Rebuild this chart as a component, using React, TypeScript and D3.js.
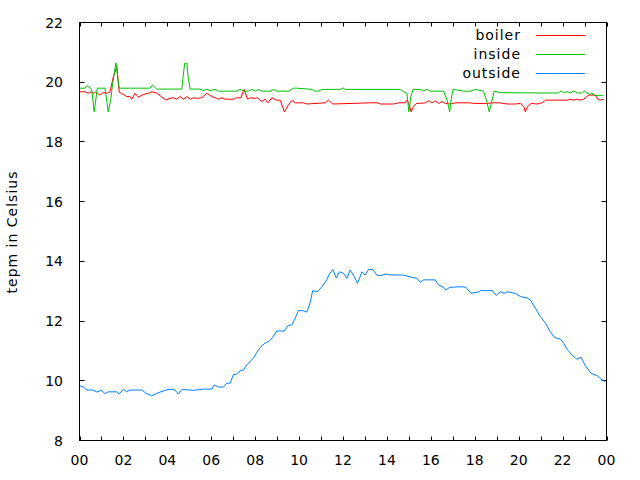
import React from 'react';
import * as d3 from 'd3';

const xTickHours = d3.range(0, 25, 1);
const xLabelHours = d3.range(0, 25, 2);
const yTickValues = d3.range(8, 23, 2);

const seriesNames = ['boiler', 'inside', 'outside'];
const seriesColors = ['#ff0000', '#00c000', '#0080ff'];

const boilerReadings: [number, number][] = [
  [0, 19.68], [0.25, 19.68], [0.4, 19.63], [0.48, 19.68], [0.63, 19.63], [0.75, 19.68], [0.93, 19.57],
  [1.08, 19.66], [1.24, 19.63], [1.39, 19.68], [1.54, 20.18], [1.7, 20.52], [1.81, 19.66], [1.92, 19.63],
  [2.15, 19.52], [2.3, 19.52], [2.38, 19.43], [2.53, 19.63], [2.68, 19.5], [2.91, 19.59], [3.14, 19.63],
  [3.29, 19.68], [3.52, 19.63], [3.67, 19.55], [3.94, 19.4], [4.12, 19.46], [4.28, 19.48], [4.43, 19.43],
  [4.58, 19.52], [4.73, 19.43], [4.89, 19.52], [5.04, 19.43], [5.19, 19.48], [5.34, 19.46], [5.57, 19.48],
  [5.8, 19.63], [6.03, 19.52], [6.18, 19.48], [6.33, 19.43], [6.48, 19.48], [6.63, 19.43], [7.01, 19.43],
  [7.16, 19.48], [7.35, 19.48], [7.5, 19.76], [7.65, 19.43], [7.77, 19.48], [8.0, 19.46], [8.1, 19.48],
  [8.3, 19.35], [8.45, 19.43], [8.58, 19.31], [8.76, 19.48], [8.96, 19.4], [9.14, 19.4], [9.33, 19.01],
  [9.52, 19.24], [9.67, 19.39], [9.82, 19.31], [10.2, 19.31], [10.36, 19.27], [11.19, 19.31], [11.34, 19.4],
  [11.54, 19.27], [13.24, 19.31], [13.55, 19.31], [13.7, 19.27], [14.3, 19.27], [14.53, 19.31], [14.84, 19.31],
  [14.91, 19.4], [15.0, 19.29], [15.1, 19.01], [15.21, 19.19], [15.34, 19.29], [15.52, 19.29], [15.75, 19.31],
  [15.9, 19.38], [16.05, 19.31], [16.2, 19.38], [16.35, 19.29], [16.51, 19.35], [16.66, 19.29], [16.89, 19.27],
  [17.12, 19.31], [17.8, 19.31], [17.95, 19.29], [18.56, 19.29], [18.79, 19.31], [19.17, 19.31], [19.29, 19.29],
  [19.47, 19.27], [19.85, 19.27], [20.08, 19.29], [20.23, 19.19], [20.3, 19.01], [20.41, 19.19], [20.57, 19.29],
  [20.84, 19.27], [21.07, 19.31], [21.22, 19.4], [22.21, 19.4], [22.36, 19.43], [22.51, 19.4], [22.66, 19.43],
  [22.81, 19.4], [22.96, 19.43], [23.12, 19.53], [23.23, 19.57], [23.49, 19.57], [23.6, 19.43], [23.72, 19.4],
  [23.87, 19.43],
];

const insideReadings: [number, number][] = [
  [0, 19.8], [0.25, 19.8], [0.33, 19.88], [0.48, 19.82], [0.56, 19.74], [0.67, 19.01], [0.81, 19.8],
  [1.16, 19.8], [1.31, 19.01], [1.42, 19.4], [1.51, 19.96], [1.66, 20.65], [1.77, 20.0], [1.81, 19.8],
  [3.21, 19.8], [3.32, 19.91], [3.52, 19.77], [4.66, 19.77], [4.72, 20.2], [4.79, 20.63], [4.89, 20.63],
  [4.96, 20.1], [5.04, 19.77], [5.49, 19.77], [5.64, 19.72], [5.8, 19.76], [5.98, 19.72], [6.18, 19.76],
  [6.33, 19.7], [7.16, 19.7], [7.32, 19.76], [7.47, 19.7], [7.69, 19.7], [7.85, 19.76], [8.0, 19.7],
  [8.15, 19.76], [8.3, 19.7], [8.68, 19.7], [8.83, 19.76], [8.99, 19.7], [9.52, 19.7], [9.74, 19.8],
  [9.9, 19.8], [10.58, 19.76], [10.73, 19.7], [10.88, 19.7], [11.04, 19.76], [11.87, 19.76], [12.0, 19.81],
  [12.1, 19.76], [14.61, 19.76], [14.76, 19.68], [14.91, 19.63], [15.0, 19.01], [15.09, 19.52], [15.19, 19.76],
  [15.52, 19.76], [15.67, 19.71], [15.83, 19.76], [15.98, 19.7], [16.58, 19.7], [16.74, 19.4], [16.86, 19.01],
  [16.92, 19.4], [17.01, 19.76], [17.19, 19.74], [17.49, 19.7], [17.8, 19.7], [18.03, 19.76], [18.4, 19.7],
  [18.53, 19.4], [18.66, 19.01], [18.79, 19.4], [18.89, 19.7], [19.17, 19.65], [20.99, 19.64], [21.81, 19.64],
  [21.93, 19.71], [22.05, 19.64], [22.21, 19.69], [22.36, 19.64], [22.51, 19.71], [22.66, 19.64], [22.89, 19.64],
  [23.01, 19.71], [23.12, 19.63], [23.27, 19.6], [23.34, 19.64], [23.42, 19.56], [23.85, 19.56],
];

const outsideReadings: [number, number][] = [
  [0, 9.84], [0.2, 9.78], [0.35, 9.69], [0.6, 9.69], [0.81, 9.62], [0.98, 9.69], [1.16, 9.57], [1.3, 9.63],
  [1.7, 9.63], [1.81, 9.56], [2.0, 9.72], [2.15, 9.63], [2.3, 9.69], [2.84, 9.69], [3.03, 9.58], [3.29, 9.5],
  [3.52, 9.58], [3.67, 9.62], [3.9, 9.68], [4.13, 9.72], [4.35, 9.69], [4.5, 9.55], [4.66, 9.7], [4.89, 9.7],
  [5.19, 9.68], [5.4, 9.7], [5.64, 9.72], [6.03, 9.72], [6.13, 9.86], [6.33, 9.79], [6.55, 9.79], [6.71, 9.92],
  [6.86, 9.92], [7.01, 10.2], [7.16, 10.22], [7.32, 10.34], [7.47, 10.36], [7.62, 10.53], [7.77, 10.64],
  [7.95, 10.79], [8.07, 10.94], [8.25, 11.14], [8.45, 11.26], [8.65, 11.34], [8.8, 11.46], [8.99, 11.67],
  [9.32, 11.67], [9.52, 11.86], [9.67, 11.87], [9.82, 12.09], [9.97, 12.35], [10.17, 12.35], [10.35, 12.3],
  [10.5, 12.6], [10.62, 13.02], [10.84, 12.98], [11.04, 13.15], [11.26, 13.38], [11.38, 13.58], [11.54, 13.73],
  [11.69, 13.44], [11.84, 13.65], [12.02, 13.6], [12.18, 13.43], [12.33, 13.71], [12.51, 13.49], [12.66, 13.26],
  [12.86, 13.65], [13.01, 13.54], [13.16, 13.73], [13.36, 13.73], [13.54, 13.54], [13.69, 13.52], [14.0, 13.58],
  [14.1, 13.55], [14.76, 13.54], [15.1, 13.47], [15.37, 13.43], [15.52, 13.3], [15.67, 13.38], [16.2, 13.38],
  [16.35, 13.21], [16.6, 13.12], [16.69, 13.04], [16.86, 13.13], [17.42, 13.15], [17.6, 13.13], [17.83, 12.93],
  [18.2, 12.98], [18.26, 13.02], [18.8, 13.02], [18.98, 12.86], [19.16, 12.98], [19.35, 12.93], [19.5, 12.98],
  [19.85, 12.93], [20.08, 12.82], [20.38, 12.78], [20.53, 12.71], [20.76, 12.43], [20.99, 12.15], [21.22, 11.93],
  [21.44, 11.65], [21.6, 11.48], [21.75, 11.42], [21.9, 11.4], [22.05, 11.26], [22.2, 11.06], [22.43, 10.86],
  [22.66, 10.72], [22.84, 10.79], [23.04, 10.5], [23.3, 10.25], [23.57, 10.17], [23.8, 10.03], [23.95, 9.97],
];

const allSeries = [boilerReadings, insideReadings, outsideReadings];

const x = d3.scaleLinear().domain([0, 24]).range([79.5, 606.5]);
const y = d3.scaleLinear().domain([8, 22]).range([440.5, 22.5]);

const line = d3
  .line<[number, number]>()
  .x((d) => x(d[0]))
  .y((d) => y(d[1]));

const font = '"DejaVu Sans", sans-serif';

export default function App() {
  const [x0, x1] = x.range();
  const [y0, y1] = y.range();
  return (
    <svg
      width={640}
      height={480}
      style={{ position: 'absolute', left: 0, top: 0, background: '#fff' }}
      fontFamily={font}
      fontSize={14}
    >
      <rect x={0} y={0} width={640} height={480} fill="#fff" />
      {/* ticks */}
      {xTickHours.map((h) => (
        <g key={'xt' + h}>
          <line x1={Math.round(x(h)) + 0.5} x2={Math.round(x(h)) + 0.5} y1={y0} y2={y0 - 4} stroke="#000" />
          <line x1={Math.round(x(h)) + 0.5} x2={Math.round(x(h)) + 0.5} y1={y1} y2={y1 + 4} stroke="#000" />
        </g>
      ))}
      {yTickValues.map((v) => (
        <g key={'yt' + v}>
          <line x1={x0} x2={x0 + 5} y1={Math.round(y(v) - 0.5) + 0.5} y2={Math.round(y(v) - 0.5) + 0.5} stroke="#000" />
          <line x1={x1} x2={x1 - 5} y1={Math.round(y(v) - 0.5) + 0.5} y2={Math.round(y(v) - 0.5) + 0.5} stroke="#000" />
          <text x={63} y={y(v) + 5} textAnchor="end" fill="#000">
            {String(v)}
          </text>
        </g>
      ))}
      {xLabelHours.map((h) => (
        <text key={'xl' + h} x={x(h)} y={465} textAnchor="middle" fill="#000">
          {String(h % 24).padStart(2, '0')}
        </text>
      ))}
      {/* data */}
      {allSeries.map((s, i) => (
        <path key={'s' + i} d={line(s) || ''} fill="none" stroke={seriesColors[i]} strokeWidth={1} />
      ))}
      {/* border */}
      <rect x={x0} y={y1} width={x1 - x0} height={y0 - y1} fill="none" stroke="#000" />
      {/* legend */}
      {seriesNames.map((name, i) => (
        <g key={'lg' + i}>
          <text x={521} y={40 + i * 19} textAnchor="end" fill="#000" letterSpacing={1}>
            {name}
          </text>
          <line x1={536} x2={585} y1={35.5 + i * 19} y2={35.5 + i * 19} stroke={seriesColors[i]} />
        </g>
      ))}
      <text
        transform={`translate(17,232) rotate(-90)`}
        textAnchor="middle"
        fill="#000"
        letterSpacing={1}
      >
        tepm in Celsius
      </text>
    </svg>
  );
}
